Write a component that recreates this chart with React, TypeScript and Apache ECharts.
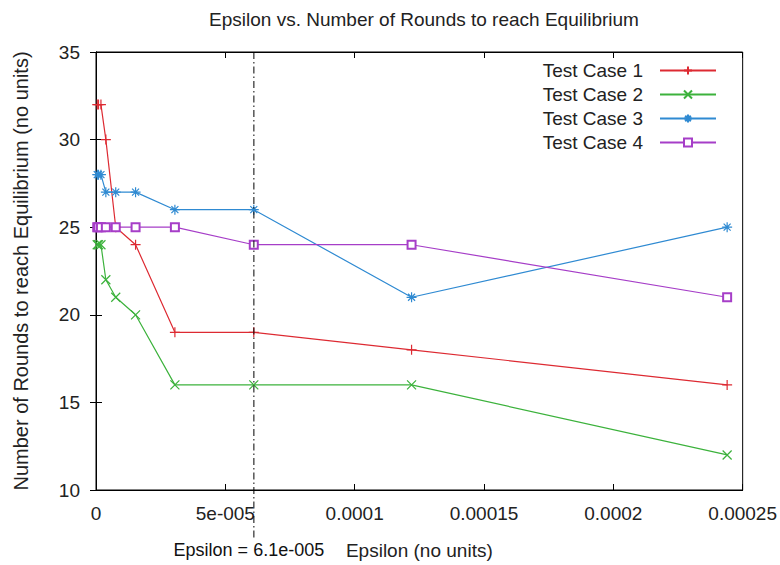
import React, { useEffect, useRef } from "react";
import * as echarts from "echarts";

const epsilon = [4.77e-7, 9.54e-7, 1.91e-6, 3.81e-6, 7.63e-6, 1.53e-5, 3.05e-5, 6.1e-5, 1.22e-4, 2.44e-4];
const testCase1 = [32, 32, 32, 30, 25, 24, 19, 19, 18, 16];
const testCase2 = [24, 24, 24, 22, 21, 20, 16, 16, 16, 12];
const testCase3 = [28, 28, 28, 27, 27, 27, 26, 26, 21, 25];
const testCase4 = [25, 25, 25, 25, 25, 25, 25, 24, 24, 21];
const seriesNames = ["Test Case 1", "Test Case 2", "Test Case 3", "Test Case 4"];
const xTickLabels = ["0", "5e-005", "0.0001", "0.00015", "0.0002", "0.00025"];
const yTickLabels = ["10", "15", "20", "25", "30", "35"];
const markerEpsilon = 6.1035e-5;
const markerLabel = "Epsilon = 6.1e-005";

const colors = ["#dd2a32", "#3cb23c", "#2f8ad2", "#a63ec8"];
const symbols = [
  "path://M5,0L5,10M0,5L10,5",
  "path://M0,0L10,10M10,0L0,10",
  "path://M5,0L5,10M0,5L10,5M1.5,1.5L8.5,8.5M8.5,1.5L1.5,8.5",
  "emptyRect",
];
const symbolSizes = [10, 9, 10, 8];

const FONT = "'Liberation Sans', Arial, sans-serif";

export default function App() {
  const ref = useRef<HTMLDivElement>(null);
  useEffect(() => {
    if (!ref.current) return;
    const chart = echarts.init(ref.current, null, { renderer: "svg" });
    const allData = [testCase1, testCase2, testCase3, testCase4];
    const xMin = 0, xMax = 0.00025, xInt = 0.00005;
    const yMin = 10, yMax = 35, yInt = 5;
    const axisLine = { show: true, lineStyle: { color: "#000", width: 1 } };
    const axisTick = { show: true, inside: true, length: 6, lineStyle: { color: "#000", width: 1 } };
    chart.setOption({
      animation: false,
      backgroundColor: "#fff",
      title: {
        text: "Epsilon vs. Number of Rounds to reach Equilibrium",
        left: 419,
        textAlign: "center",
        top: 5,
        textStyle: { fontFamily: FONT, fontSize: 19, fontWeight: "normal", color: "#222" },
      },
      legend: {
        data: seriesNames,
        orient: "vertical",
        right: 58,
        top: 56,
        align: "right",
        itemWidth: 56,
        itemHeight: 10,
        itemGap: 5,
        textStyle: { fontFamily: FONT, fontSize: 19, color: "#222", lineHeight: 19, padding: [0, 12, 0, 0] },
      },
      grid: { left: 96, right: 32, top: 52, bottom: 75, show: true, borderColor: "#000", borderWidth: 1, backgroundColor: "transparent" },
      xAxis: [
        {
          type: "value",
          min: xMin,
          max: xMax,
          interval: xInt,
          position: "bottom",
          axisLine,
          axisTick,
          splitLine: { show: false },
          axisLabel: {
            fontFamily: FONT,
            fontSize: 19,
            color: "#222",
            margin: 14,
            showMaxLabel: true,
            formatter: (v: number) => xTickLabels[Math.round(v / xInt)] ?? "",
          },
          name: "Epsilon (no units)",
          nameLocation: "middle",
          nameGap: 51,
          nameTextStyle: { fontFamily: FONT, fontSize: 19, color: "#222" },
        },
        {
          type: "value",
          min: xMin,
          max: xMax,
          interval: xInt,
          position: "top",
          axisLine,
          axisTick,
          splitLine: { show: false },
          axisLabel: { show: false },
        },
      ],
      yAxis: [
        {
          type: "value",
          min: yMin,
          max: yMax,
          interval: yInt,
          position: "left",
          axisLine,
          axisTick,
          splitLine: { show: false },
          axisLabel: {
            fontFamily: FONT,
            fontSize: 19,
            color: "#222",
            margin: 16,
            formatter: (v: number) => yTickLabels[Math.round((v - yMin) / yInt)] ?? "",
          },
          name: "Number of Rounds to reach Equilibrium (no units)",
          nameLocation: "middle",
          nameGap: 65,
          nameTextStyle: { fontFamily: FONT, fontSize: 20, color: "#222" },
        },
        {
          type: "value",
          min: yMin,
          max: yMax,
          interval: yInt,
          position: "right",
          axisLine,
          axisTick,
          splitLine: { show: false },
          axisLabel: { show: false },
        },
      ],
      series: allData.map((d, i) => ({
        name: seriesNames[i],
        type: "line",
        xAxisIndex: 0,
        yAxisIndex: 0,
        data: epsilon.map((e, j) => [e, d[j]]),
        symbol: symbols[i],
        symbolSize: symbolSizes[i],
        showAllSymbol: true,
        lineStyle: { color: colors[i], width: 1.2 },
        itemStyle: { color: colors[i], borderColor: colors[i], borderWidth: 1.2 },
        emphasis: { disabled: true },
      })),
    });
    const lx = chart.convertToPixel({ xAxisIndex: 0 }, markerEpsilon) as number;
    const yTop = chart.convertToPixel({ yAxisIndex: 0 }, yMax) as number;
    chart.setOption({
      graphic: [
        {
          type: "line",
          shape: { x1: lx, y1: yTop, x2: lx, y2: 540 },
          style: { stroke: "#000", lineWidth: 1, lineDash: [7, 3, 1.5, 3] },
          z: 10,
        },
        {
          type: "text",
          x: lx - 5,
          y: 550,
          style: {
            text: markerLabel,
            fontFamily: "'Liberation Sans Narrow', 'Liberation Sans', sans-serif",
            fontSize: 18,
            fill: "#111",
            align: "center",
            verticalAlign: "middle",
          },
        },
      ],
    });
    return () => chart.dispose();
  }, []);
  return <div ref={ref} style={{ position: "fixed", left: 0, top: 0, width: 780, height: 565 }} />;
}
